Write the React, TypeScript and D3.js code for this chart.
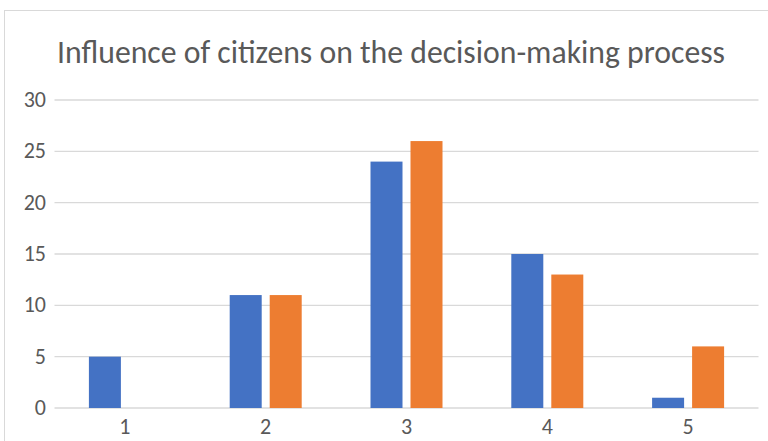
import React from "react";
import * as d3 from "d3";

const categories = ["1", "2", "3", "4", "5"];
const seriesBlue = [5, 11, 24, 15, 1];
const seriesOrange = [0, 11, 26, 13, 6];
const yTicks = [0, 5, 10, 15, 20, 25, 30];
const title = "Influence of citizens on the decision-making process";

export default function App() {
  const W = 768, H = 441;
  const left = 54.5, right = 758.5, top = 100, bottom = 408;
  const x = d3.scaleBand<string>().domain(categories).range([left, right]).paddingInner(0).paddingOuter(0);
  const y = d3.scaleLinear().domain([0, 30]).range([bottom, top]);
  const barW = 32, gap = 8;
  const series = [
    { values: seriesBlue, color: "#4472C4" },
    { values: seriesOrange, color: "#ED7D31" },
  ];
  const font = "Carlito, 'Open Sans', 'Noto Sans', sans-serif";
  return (
    <svg width={W} height={H} style={{ position: "absolute", left: 0, top: 0, background: "#fff" }}>
      <rect x={4.5} y={10.5} width={800} height={500} fill="#fff" stroke="#d9d9d9" strokeWidth={1} />
      <text x={57} y={63} textAnchor="start" fontFamily={font} fontSize={32} fill="#595959" textLength={668} lengthAdjust="spacingAndGlyphs">{title}</text>
      {yTicks.map((t) => (
        <g key={t}>
          <line x1={left} x2={right} y1={y(t)} y2={y(t)} stroke="#d9d9d9" strokeWidth={1.3} />
          <text x={46} y={y(t) + 7} textAnchor="end" fontFamily={font} fontSize={22} fill="#595959">{t}</text>
        </g>
      ))}
      {categories.map((c, i) => {
        const cx = (x(c) as number) + x.bandwidth() / 2;
        const start = cx - (barW * 2 + gap) / 2;
        return (
          <g key={c}>
            {series.map((s, j) => {
              const v = s.values[i];
              if (v <= 0) return null;
              return (
                <rect key={j} x={start + j * (barW + gap)} y={y(v)} width={barW} height={y(0) - y(v)} fill={s.color} />
              );
            })}
            <text x={cx} y={434} textAnchor="middle" fontFamily={font} fontSize={22} fill="#595959">{c}</text>
          </g>
        );
      })}
    </svg>
  );
}
